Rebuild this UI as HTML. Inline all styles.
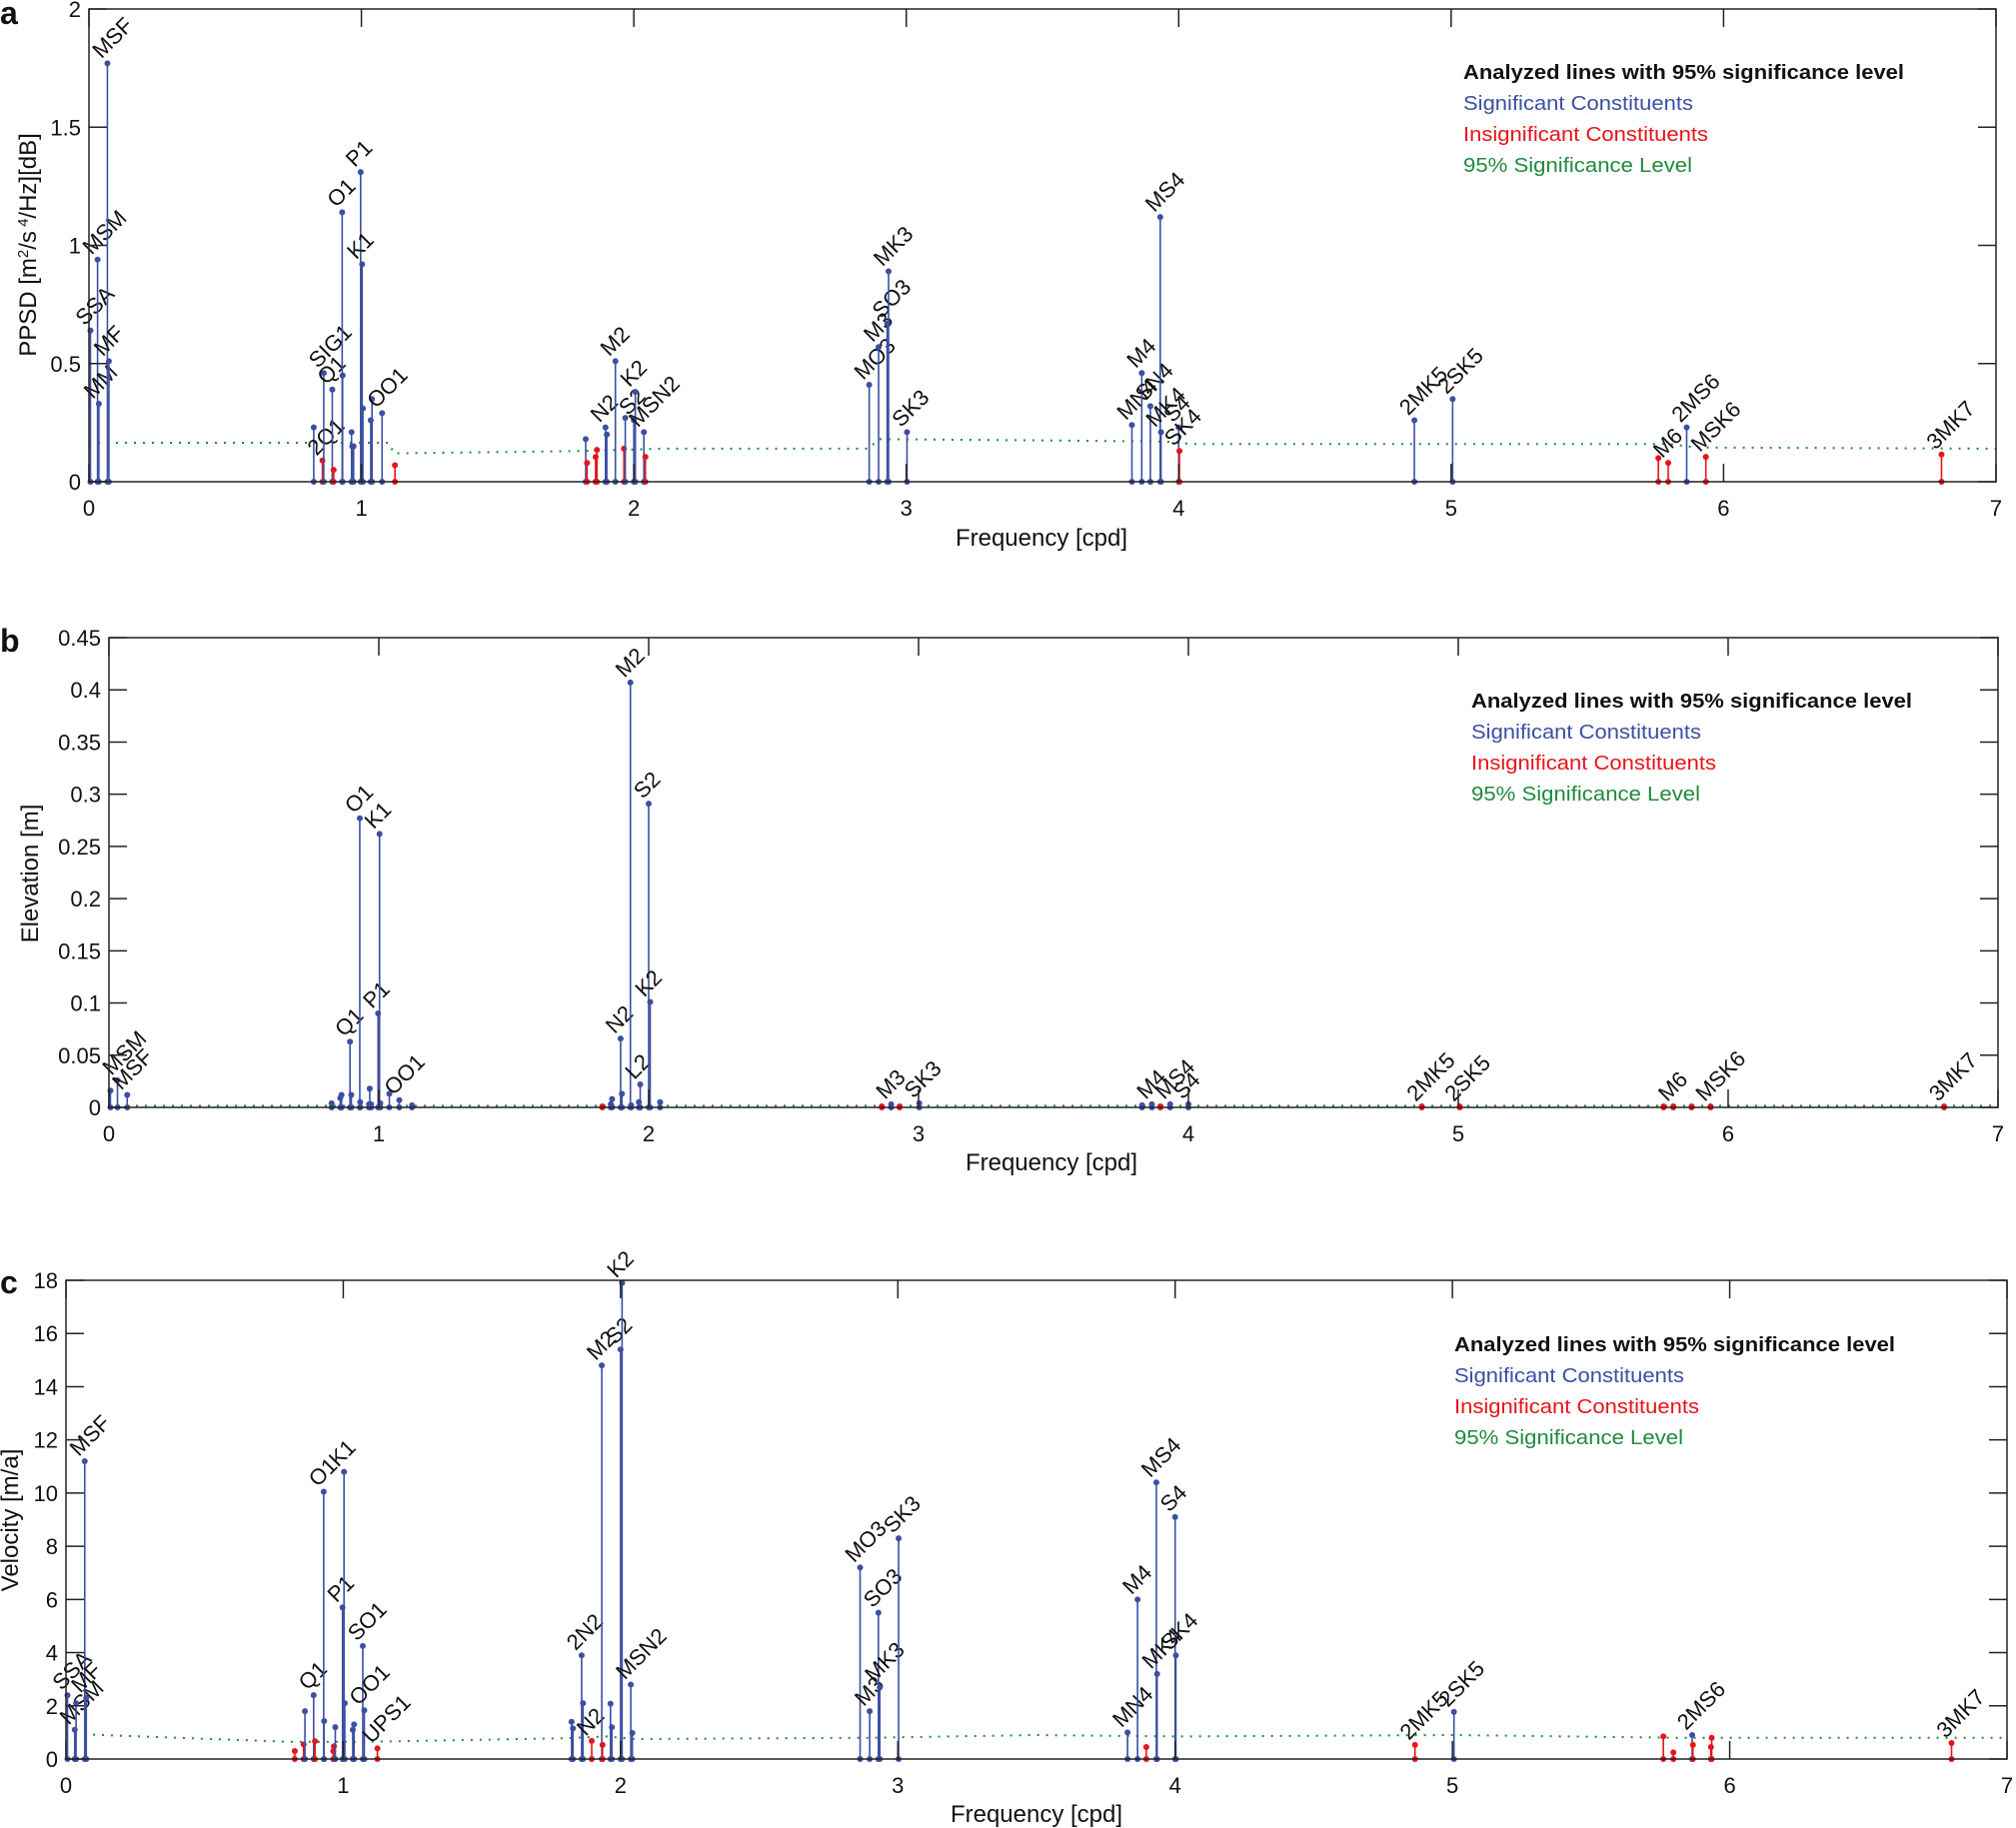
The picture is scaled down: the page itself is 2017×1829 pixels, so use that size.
<!DOCTYPE html>
<html><head><meta charset="utf-8"><title>Tidal constituent spectra</title>
<style>
html,body{margin:0;padding:0;background:#fff;}
svg{display:block;font-family:"Liberation Sans",Arial,sans-serif;}
</style></head>
<body>
<svg id="fig" width="2017" height="1829" viewBox="0 0 2017 1829" xmlns="http://www.w3.org/2000/svg">
<rect x="0" y="0" width="2017" height="1829" fill="#fff"/>
</svg>
<script>
// ---------- shared constituent frequencies (cpd) ----------
const FREQ = {SSA:.0055,MSM:.0316,MM:.0363,MSF:.0677,MF:.0732,ALP1:.8251,'2Q1':.8570,SIG1:.8618,Q1:.8932,RHO1:.8981,O1:.9295,TAU1:.9310,BET1:.9638,NO1:.9664,CHI1:.9713,P1:.9973,K1:1.0027,PSI1:1.0055,THE1:1.0343,J1:1.0390,SO1:1.0705,OO1:1.0759,UPS1:1.1231,OQ2:1.8234,EPS2:1.8283,'2N2':1.8597,MU2:1.8645,N2:1.8960,NU2:1.9008,M2:1.9323,MKS2:1.9350,LDA2:1.9637,L2:1.9686,S2:2.0,K2:2.0055,MSN2:2.0369,ETA2:2.0424,MO3:2.8639,M3:2.8984,SO3:2.9299,MK3:2.9350,SK3:3.0027,MN4:3.8283,M4:3.8645,SN4:3.8960,MS4:3.9323,MK4:3.9350,S4:4.0,SK4:4.0027,'2MK5':4.865,'2SK5':5.0055,'2MN6':5.7606,M6:5.7968,'2MS6':5.8646,'2MK6':5.8673,'2SM6':5.9323,MSK6:5.9350,'3MK7':6.80};

// ---------- panel a (PPSD) ----------
const aNames = ['SSA','MSM','MM','MSF','MF','ALP1','2Q1','SIG1','Q1','RHO1','O1','TAU1','BET1','NO1','CHI1','P1','K1','PSI1','THE1','J1','OO1','UPS1','OQ2','EPS2','2N2','MU2','N2','NU2','M2','LDA2','L2','S2','K2','MSN2','ETA2','MO3','M3','SO3','MK3','SK3','MN4','M4','SN4','MS4','MK4','S4','SK4','2MK5','2SK5','2MN6','M6','2MS6','MSK6','3MK7'];
const aValues = [.64,.94,.33,1.77,.51,.23,.09,.46,.39,.05,1.14,.45,.21,.15,.15,1.31,.92,.31,.26,.35,.29,.07,.18,.08,.105,.135,.23,.20,.51,.14,.27,.26,.38,.21,.105,.41,.57,.67,.89,.21,.24,.46,.32,1.12,.21,.23,.13,.26,.35,.10,.08,.23,.105,.115];
const aSignif = [1,1,1,1,1,1,0,1,1,0,1,1,1,1,1,1,1,1,1,1,1,0,1,0,0,0,1,1,1,0,1,1,1,1,0,1,1,1,1,1,1,1,1,1,1,1,0,1,1,0,0,1,0,0];
const aLabeled = ['SSA','MSM','MM','MSF','MF','2Q1','SIG1','Q1','O1','P1','K1','OO1','N2','M2','S2','K2','MSN2','MO3','M3','SO3','MK3','SK3','MN4','M4','SN4','MS4','MK4','S4','SK4','2MK5','2SK5','M6','2MS6','MSK6','3MK7'];
const aSigFreq = [0,0.85,1.1,1.12,1.8,1.95,2.1,2.86,2.9,3.5,3.95,4.05,5,5.8,5.9,7];
const aSigVal  = [.165,.165,.165,.12,.13,.135,.14,.14,.18,.175,.17,.16,.16,.16,.145,.14];
const aYTicks = [0,0.5,1,1.5,2];
const aYTickLabels = ['0','0.5','1','1.5','2'];

// ---------- panel b (Elevation) ----------
const bNames = ['SSA','MSM','MSF','ALP1','2Q1','SIG1','Q1','RHO1','O1','TAU1','BET1','NO1','CHI1','P1','K1','PSI1','J1','OO1','UPS1','EPS2','2N2','MU2','N2','NU2','M2','MKS2','LDA2','L2','S2','K2','ETA2','MO3','M3','SO3','SK3','MN4','M4','SN4','MS4','S4','2MK5','2SK5','2MN6','M6','2MS6','MSK6','3MK7'];
const bValues = [.016,.026,.012,.004,.009,.012,.063,.012,.277,.005,.003,.018,.003,.09,.262,.004,.013,.007,.002,.001,.003,.008,.066,.013,.407,.002,.005,.022,.291,.101,.005,.001,.003,.001,.004,.002,.003,.001,.003,.003,.001,.001,.001,.001,.001,.001,.001];
const bSignif = [1,1,1,1,1,1,1,1,1,1,1,1,1,1,1,1,1,1,1,0,1,1,1,1,1,1,1,1,1,1,1,0,1,0,1,1,1,0,1,1,0,0,0,0,0,0,0];
const bLabeled = ['MSM','MSF','Q1','O1','P1','K1','OO1','N2','M2','L2','S2','K2','M3','SK3','M4','MS4','S4','2MK5','2SK5','M6','MSK6','3MK7'];
const bSigFreq = [0,7];
const bSigVal  = [.0015,.0015];
const bYTicks = [0,.05,.1,.15,.2,.25,.3,.35,.4,.45];
const bYTickLabels = ['0','0.05','0.1','0.15','0.2','0.25','0.3','0.35','0.4','0.45'];

// ---------- panel c (Velocity) ----------
const cNames = ['SSA','MSM','MM','MSF','MF','ALP1','2Q1','SIG1','Q1','RHO1','O1','TAU1','BET1','NO1','CHI1','P1','K1','PSI1','THE1','J1','SO1','OO1','UPS1','OQ2','EPS2','2N2','MU2','N2','M2','MKS2','LDA2','L2','S2','K2','MSN2','ETA2','MO3','M3','SO3','MK3','SK3','MN4','M4','SN4','MS4','MK4','S4','SK4','2MK5','2SK5','2MN6','M6','2MS6','2MK6','2SM6','MSK6','3MK7'];
const cValues = [2.4,1.1,2.1,11.2,2.3,.3,.55,1.8,2.4,.67,10.05,1.43,.3,.48,1.2,5.7,10.8,2.1,1.1,1.3,4.25,1.83,.4,1.4,1.15,3.9,2.1,.68,14.8,.53,2.08,1.2,15.4,17.9,2.8,.98,7.2,1.8,5.5,2.7,8.3,1.0,6.0,.45,10.4,3.2,9.1,3.9,.53,1.77,.85,.25,.9,.53,.45,.8,.6];
const cSignif = [1,1,1,1,1,0,0,1,1,0,1,1,0,0,1,1,1,1,1,1,1,1,0,1,1,1,1,0,1,0,1,1,1,1,1,1,1,1,1,1,1,1,1,0,1,1,1,1,0,1,0,0,1,0,0,0,0];
const cLabeled = ['SSA','MSM','MSF','MF','Q1','O1','P1','K1','SO1','OO1','UPS1','2N2','N2','M2','S2','K2','MSN2','MO3','M3','SO3','MK3','SK3','MN4','M4','MS4','MK4','S4','SK4','2MK5','2SK5','2MS6','3MK7'];
const cSigFreq = [0,0.8,1.1,1.8,1.95,2.05,2.9,3.5,4,5,5.8,6,7];
const cSigVal  = [.95,.65,.65,.78,.85,.75,.8,.9,.85,.9,.8,.8,.8];
const cYTicks = [0,2,4,6,8,10,12,14,16,18];
const cYTickLabels = ['0','2','4','6','8','10','12','14','16','18'];

const xTicks = [0,1,2,3,4,5,6,7];
const xTickLabels = ['0','1','2','3','4','5','6','7'];

const NS = 'http://www.w3.org/2000/svg';
const svg = document.getElementById('fig');
const BLUE = '#3b4fa3', RED = '#e8131b', GREEN = '#1f8a3c';
function mk(tag, attrs, parent){ const e=document.createElementNS(NS,tag); for(const k in attrs) e.setAttribute(k,attrs[k]); (parent||svg).appendChild(e); return e; }

function panel(cfg){
  const g = mk('g',{});
  
  
  const X = f => cfg.L + (f/7)*(cfg.R-cfg.L);
  const Y = v => cfg.B - (v/cfg.ymax)*(cfg.B-cfg.T);
  let pts = cfg.sigF.map((f,i)=>X(f).toFixed(1)+','+Y(cfg.sigV[i]).toFixed(1)).join(' ');
  const sl = mk('polyline',{points:pts,fill:'none',stroke:GREEN,'stroke-width':2,'stroke-dasharray':'2 7'},g);
  
  
  cfg.names.forEach((n,i)=>{
    const f = FREQ[n], v = cfg.vals[i];
    const col = cfg.sig[i] ? BLUE : RED;
    const sg = mk('g',{},g);
    
    
    mk('line',{x1:X(f),x2:X(f),y1:cfg.B,y2:Y(v),stroke:col,'stroke-width':1.6},sg);
    mk('circle',{cx:X(f),cy:Y(v),r:3,fill:col},sg);
    mk('circle',{cx:X(f),cy:cfg.B,r:3,fill:col},sg);
    if(cfg.labels.indexOf(n)>=0){
      const tx = X(f)-6, ty = Y(v)-4;
      const t = mk('text',{x:tx,y:ty,'font-size':22,fill:'#111',transform:'rotate(-45 '+tx+' '+ty+')'},sg);
      t.textContent = n;
      
      
    }
  });
  const box = mk('rect',{x:cfg.L,y:cfg.T,width:cfg.R-cfg.L,height:cfg.B-cfg.T,fill:'none',stroke:'#222','stroke-width':1.5},g);
  
  
  xTicks.forEach((t,i)=>{
    const x = X(t);
    mk('line',{x1:x,x2:x,y1:cfg.B,y2:cfg.B-18,stroke:'#222','stroke-width':1.5},g);
    mk('line',{x1:x,x2:x,y1:cfg.T,y2:cfg.T+18,stroke:'#222','stroke-width':1.5},g);
    const tl = mk('text',{x:x,y:cfg.B+34,'font-size':22,'text-anchor':'middle',fill:'#111'},g);
    tl.textContent = xTickLabels[i];
    
    
  });
  cfg.yt.forEach((t,i)=>{
    const y = Y(t);
    mk('line',{x1:cfg.L,x2:cfg.L+18,y1:y,y2:y,stroke:'#222','stroke-width':1.5},g);
    mk('line',{x1:cfg.R,x2:cfg.R-18,y1:y,y2:y,stroke:'#222','stroke-width':1.5},g);
    const tl = mk('text',{x:cfg.L-8,y:y+8,'font-size':22,'text-anchor':'end',fill:'#111'},g);
    tl.textContent = cfg.ytl[i];
    
    
  });
  const xl = mk('text',{x:cfg.xlx,y:cfg.xly,'font-size':24,'text-anchor':'middle',fill:'#111'},g);
  xl.textContent = 'Frequency [cpd]';
  
  
  const yl = mk('text',{x:cfg.ylx,y:cfg.yly,'font-size':24,'text-anchor':'middle',fill:'#111',transform:'rotate(-90 '+cfg.ylx+' '+cfg.yly+')'},g);
  yl.innerHTML = cfg.ytitle;
  
  
  const lg = mk('g',{},g);
  
  
  const items = [['Analyzed lines with 95% significance level','#111',441,'bold'],['Significant Constituents',BLUE,230,'normal'],['Insignificant Constituents',RED,245,'normal'],['95% Significance Level',GREEN,229,'normal']];
  items.forEach((it,i)=>{
    const t = mk('text',{x:cfg.lgx,y:cfg.lgy+i*31,'font-size':20,fill:it[1],'font-weight':it[3],textLength:it[2],lengthAdjust:'spacingAndGlyphs'},lg);
    t.textContent = it[0];
    
    
  });
  const pl = mk('text',{x:cfg.plx,y:cfg.ply,'font-size':32,'font-weight':'bold',fill:'#111'},g);
  pl.textContent = cfg.id;
  
  
}

panel({id:'a',L:89,R:1997,T:9,B:482,ymax:2,names:aNames,vals:aValues,sig:aSignif,labels:aLabeled,sigF:aSigFreq,sigV:aSigVal,yt:aYTicks,ytl:aYTickLabels,
  xlx:1042,xly:546,ylx:36,yly:245,ytitle:'PPSD [m<tspan baseline-shift="super" font-size="15">2</tspan>/s<tspan baseline-shift="super" font-size="15"> 4</tspan>/Hz][dB]',lgx:1464,lgy:79,plx:0,ply:24});
panel({id:'b',L:109,R:1999,T:638,B:1108,ymax:0.45,names:bNames,vals:bValues,sig:bSignif,labels:bLabeled,sigF:bSigFreq,sigV:bSigVal,yt:bYTicks,ytl:bYTickLabels,
  xlx:1052,xly:1171,ylx:38,yly:874,ytitle:'Elevation [m]',lgx:1472,lgy:708,plx:0,ply:652});
panel({id:'c',L:66,R:2008,T:1281,B:1760,ymax:18,names:cNames,vals:cValues,sig:cSignif,labels:cLabeled,sigF:cSigFreq,sigV:cSigVal,yt:cYTicks,ytl:cYTickLabels,
  xlx:1037,xly:1823,ylx:18,yly:1521,ytitle:'Velocity [m/a]',lgx:1455,lgy:1352,plx:0,ply:1294});
</script>
</body></html>
